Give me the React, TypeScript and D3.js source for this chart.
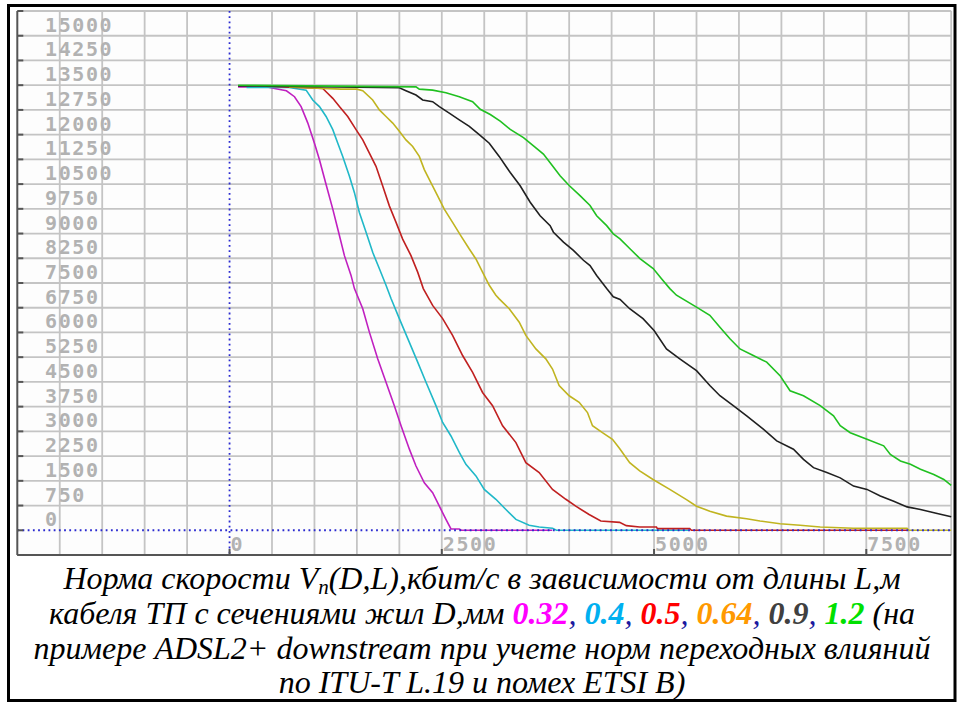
import React from 'react'
import * as d3 from 'd3'

// cable length L (m) -> rate V (kbit/s), one array per wire diameter
const d032: [number, number][] = [
  [100, 13450], [430, 13450], [530, 13400], [670, 13330], [765, 13150], [843, 12850], [922, 12350],
  [1000, 11740], [1059, 11240], [1137, 10490], [1216, 9740], [1275, 9140], [1353, 8330], [1431, 7730],
  [1471, 7330], [1569, 6720], [1647, 6010], [1745, 5200], [1843, 4490], [1941, 3780], [2020, 3170],
  [2118, 2460], [2196, 1950], [2294, 1440], [2392, 1140], [2471, 730], [2549, 330], [2608, 40],
  [2706, 40], [2730, 0], [3800, 0],
]
const d04: [number, number][] = [
  [200, 13430], [700, 13430], [902, 13350], [980, 13050], [1059, 12850], [1137, 12550], [1216, 12150],
  [1275, 11740], [1333, 11340], [1412, 10740], [1471, 10240], [1529, 9640], [1608, 9040], [1686, 8430],
  [1765, 7930], [1843, 7430], [1902, 7030], [2000, 6420], [2118, 5700], [2216, 5100], [2314, 4490],
  [2431, 3780], [2510, 3270], [2608, 2860], [2706, 2360], [2784, 2000], [2902, 1650], [3000, 1240],
  [3137, 940], [3255, 630], [3373, 330], [3529, 150], [3647, 100], [3804, 60], [3850, 0], [5400, 0],
]
const d05: [number, number][] = [
  [430, 13470], [1098, 13400], [1137, 13300], [1216, 13100], [1294, 12850], [1392, 12550], [1490, 12150],
  [1569, 11840], [1647, 11440], [1725, 11040], [1804, 10440], [1882, 9840], [1961, 9340], [2039, 8830],
  [2137, 8330], [2216, 7830], [2282, 7330], [2392, 6820], [2510, 6420], [2627, 5910], [2745, 5300],
  [2863, 4790], [2980, 4180], [3098, 3780], [3216, 3170], [3373, 2660], [3490, 2050], [3647, 1750],
  [3804, 1240], [3961, 940], [4078, 730], [4235, 480], [4373, 280], [4594, 240], [4673, 140],
  [4830, 100], [5028, 100], [5040, 50], [5420, 50], [5440, 0], [8000, 0],
]
const d064: [number, number][] = [
  [700, 13450], [1314, 13380], [1500, 13380], [1569, 13330], [1686, 13050], [1765, 12750], [1843, 12550],
  [1922, 12350], [2000, 12100], [2078, 11840], [2157, 11640], [2235, 11340], [2294, 10940], [2373, 10540],
  [2451, 10140], [2529, 9740], [2627, 9340], [2725, 8930], [2824, 8530], [2902, 8230], [2980, 7830],
  [3059, 7430], [3137, 7130], [3176, 7020], [3294, 6720], [3412, 6310], [3490, 5910], [3608, 5500],
  [3725, 5200], [3804, 4890], [3882, 4390], [4000, 4080], [4118, 3880], [4216, 3570], [4275, 3170],
  [4392, 2960], [4510, 2760], [4594, 2480], [4713, 2050], [4831, 1800], [4988, 1540], [5185, 1240],
  [5382, 930], [5500, 730], [5657, 580], [5854, 430], [6091, 350], [6248, 280], [6484, 200],
  [6720, 150], [6957, 100], [7350, 60], [7980, 60], [8000, 0], [8500, 0],
]
const d09: [number, number][] = [
  [100, 13480], [2000, 13420], [2078, 13330], [2196, 13200], [2275, 13050], [2392, 13000], [2471, 12850],
  [2588, 12650], [2706, 12450], [2824, 12250], [2941, 12000], [3059, 11740], [3176, 11340], [3255, 11040],
  [3306, 10850], [3423, 10450], [3541, 9950], [3658, 9540], [3776, 9240], [3815, 9040], [3933, 8740],
  [4050, 8490], [4168, 8190], [4246, 8030], [4324, 7730], [4442, 7330], [4520, 7080], [4600, 7000],
  [4713, 6720], [4870, 6420], [5000, 6060], [5146, 5500], [5303, 5200], [5500, 4840], [5657, 4390],
  [5776, 4080], [5933, 3780], [6091, 3470], [6287, 3070], [6445, 2710], [6642, 2460], [6760, 2150],
  [6878, 1900], [7035, 1750], [7193, 1590], [7350, 1340], [7508, 1240], [7665, 1040], [7823, 880],
  [7980, 710], [8138, 630], [8335, 510], [8500, 410],
]
const d12: [number, number][] = [
  [100, 13500], [2196, 13450], [2235, 13380], [2392, 13350], [2549, 13270], [2706, 13150], [2863, 13000],
  [2953, 12770], [3071, 12610], [3188, 12410], [3306, 12160], [3462, 11910], [3580, 11660], [3697, 11410],
  [3776, 11150], [3893, 10750], [4003, 10450], [4128, 10150], [4246, 9850], [4324, 9540], [4442, 9240],
  [4520, 8990], [4599, 8840], [4716, 8540], [4834, 8240], [4990, 7940], [5088, 7630], [5186, 7330],
  [5264, 7130], [5500, 6770], [5657, 6520], [5776, 6160], [5894, 5810], [6012, 5500], [6169, 5300],
  [6327, 5100], [6484, 4690], [6602, 4230], [6760, 4080], [6957, 3780], [7114, 3470], [7193, 3170],
  [7311, 2960], [7508, 2760], [7705, 2560], [7783, 2300], [7902, 2100], [8020, 2000], [8138, 1850],
  [8295, 1690], [8413, 1540], [8500, 1360],
]

const yTicks = d3.range(0, 15001, 750)
const xTicks = [0, 2500, 5000, 7500]

const series = [
  { data: d032, color: '#c020c0' },
  { data: d04, color: '#20b8c8' },
  { data: d05, color: '#c02020' },
  { data: d064, color: '#c0b420' },
  { data: d09, color: '#202020' },
  { data: d12, color: '#20c020' },
]

export default function App() {
  const x = d3.scaleLinear().domain([-2500, 8500]).range([17.3, 951.2])
  const y = d3.scaleLinear().domain([-750, 15750]).range([555, 11])

  const line = d3.line<[number, number]>()
    .x(d => x(d[0]))
    .y(d => y(d[1]))

  const hGrid = d3.range(750, 15751, 750)
  const vGrid = d3.range(-2000, 8501, 500).filter(v => v !== 0)
  const leftTicks = d3.range(-750, 15751, 750)

  const lbl = { fontFamily: 'DejaVu Sans Mono', fontSize: 20, fontWeight: 'bold', fill: '#b2b2b2', letterSpacing: 1.6 }
  const cap = { fontFamily: '"Liberation Serif", "Times New Roman", "DejaVu Serif", serif', fontStyle: 'italic', fontSize: 32, fill: '#000' }
  const num = { fontWeight: 'bold' }
  const comma = '#1a1aa0'

  return (
    <div style={{ position: 'absolute', left: 0, top: 0 }}>
      <svg width={963} height={707} style={{ display: 'block', background: '#fff' }}>
        <rect x={17} y={11} width={934} height={544} fill="#fdfdfd" />

        {/* grid */}
        {hGrid.map(v => (
          <line key={'h' + v} x1={x(-2500)} x2={x(8500)} y1={y(v)} y2={y(v)} stroke="#c4c4c4" strokeWidth={1.8} />
        ))}
        {vGrid.map(v => (
          <line key={'v' + v} x1={x(v)} x2={x(v)} y1={y(15750)} y2={y(-750)} stroke="#c4c4c4" strokeWidth={1.8} />
        ))}

        {/* y labels */}
        {yTicks.map(v => (
          <text key={'yl' + v} x={45} y={y(v) - 4} style={lbl}>{v}</text>
        ))}
        {/* x labels */}
        {xTicks.map(v => (
          <text key={'xl' + v} x={x(v) + 1} y={551} style={lbl}>{v}</text>
        ))}

        {/* curves */}
        {series.map((s, i) => (
          <path key={i} d={line(s.data) ?? ''} fill="none" stroke={s.color} strokeWidth={1.6} />
        ))}

        {/* zero axes */}
        <line x1={x(-2500)} x2={x(8500)} y1={y(0)} y2={y(0)} stroke="#2a2ad0" strokeWidth={1.8} strokeDasharray="1.8 3.4" />
        <line x1={x(0)} x2={x(0)} y1={y(15750)} y2={y(-750)} stroke="#2a2ad0" strokeWidth={1.8} strokeDasharray="1.8 3.4" />

        {/* frame of the plot */}
        <line x1={x(-2500)} x2={x(-2500)} y1={y(15750)} y2={y(-750)} stroke="#555" strokeWidth={2} />
        <line x1={x(-2500)} x2={x(8500)} y1={y(-750)} y2={y(-750)} stroke="#555" strokeWidth={2} />
        {leftTicks.map(v => (
          <line key={'lt' + v} x1={x(-2500)} x2={x(-2500) + 6} y1={y(v)} y2={y(v)} stroke="#555" strokeWidth={2} />
        ))}
        {xTicks.map(v => (
          <line key={'bt' + v} x1={x(v)} x2={x(v)} y1={y(-750) - 6} y2={y(-750)} stroke="#555" strokeWidth={2} />
        ))}

        {/* caption */}
        <g style={cap}>
          <text x={482} y={589} textAnchor="middle">
            Норма скорости V<tspan fontSize={21} dy={5}>n</tspan><tspan dy={-5}>(D,L),кбит/с в зависимости от длины L,м</tspan>
          </text>
          <text x={482} y={624} textAnchor="middle">
            кабеля ТП с сечениями жил D,мм <tspan style={num} fill="#ff00ff">0.32</tspan>
            <tspan fill={comma}>, </tspan><tspan style={num} fill="#00b0f0">0.4</tspan>
            <tspan fill={comma}>, </tspan><tspan style={num} fill="#ff0000">0.5</tspan>
            <tspan fill={comma}>, </tspan><tspan style={num} fill="#ff9900">0.64</tspan>
            <tspan fill={comma}>, </tspan><tspan style={num} fill="#404040">0.9</tspan>
            <tspan fill={comma}>, </tspan><tspan style={num} fill="#00e000">1.2</tspan>
            <tspan> (на</tspan>
          </text>
          <text x={482} y={659} textAnchor="middle">
            примере ADSL2+ downstream при учете норм переходных влияний
          </text>
          <text x={482} y={693} textAnchor="middle">
            по ITU-T L.19 и помех ETSI B)
          </text>
        </g>

        {/* outer black frame */}
        <rect x={8.5} y={5.5} width={946.5} height={695} fill="none" stroke="#000" strokeWidth={3} />
      </svg>
    </div>
  )
}
